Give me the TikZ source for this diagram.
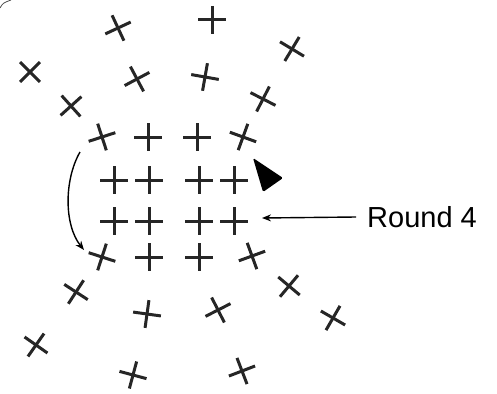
\documentclass[tikz,border=0pt]{standalone}
\usepackage{fontspec}
\setmainfont{Liberation Sans}
\usetikzlibrary{arrows.meta}
\tikzset{
  crossline/.style={draw=black!85, line width=3pt},
  crossnode/.style={minimum size=28pt, inner sep=0pt, outer sep=0pt,
    append after command={(\tikzlastnode.west) edge[crossline] (\tikzlastnode.east)
                          (\tikzlastnode.north) edge[crossline] (\tikzlastnode.south)}},
  thinarrow/.style={draw=black, line width=1.4pt, -{Stealth[length=9pt,width=7pt]}},
  labeltext/.style={inner sep=0pt, font=\fontsize{29}{32}\selectfont}
}
\begin{document}
\begin{tikzpicture}[x=1pt,y=-1pt]
\useasboundingbox (0,0) rectangle (497,393);
% outer crosses, top
\node[crossnode,rotate=25]  (t1) at (118,28) {};
\node[crossnode,rotate=0]   (t2) at (212,20) {};
\node[crossnode,rotate=-31] (t3) at (292,49) {};
\node[crossnode,rotate=45]  (t4) at (30,72) {};
\node[crossnode,rotate=28]  (t5) at (137,79) {};
\node[crossnode,rotate=-10] (t6) at (205,77) {};
\node[crossnode,rotate=42]  (t7) at (71,106) {};
\node[crossnode,rotate=-27] (t8) at (263,99) {};
% row 1
\node[crossnode,rotate=18]  (r11) at (102,137) {};
\node[crossnode]            (r12) at (148,137) {};
\node[crossnode]            (r13) at (197,137) {};
\node[crossnode,rotate=-20] (r14) at (243,137) {};
% row 2
\node[crossnode] (r21) at (114,180) {};
\node[crossnode] (r22) at (149,180) {};
\node[crossnode] (r23) at (199,180) {};
\node[crossnode] (r24) at (234,180) {};
% row 3
\node[crossnode] (r31) at (114,221) {};
\node[crossnode] (r32) at (149,221) {};
\node[crossnode] (r33) at (199,221) {};
\node[crossnode] (r34) at (234,221) {};
% row 4
\node[crossnode,rotate=-18] (r41) at (102,257) {};
\node[crossnode]            (r42) at (149,257) {};
\node[crossnode]            (r43) at (199,257) {};
\node[crossnode,rotate=20]  (r44) at (252,256) {};
% outer crosses, bottom
\node[crossnode,rotate=-33] (b1) at (76,292) {};
\node[crossnode,rotate=-40] (b2) at (289,286) {};
\node[crossnode,rotate=-8]  (b3) at (147,314) {};
\node[crossnode,rotate=27]  (b4) at (218,310) {};
\node[crossnode,rotate=-30] (b5) at (333,318) {};
\node[crossnode,rotate=-35] (b6) at (36,345) {};
\node[crossnode,rotate=-15] (b7) at (133,375) {};
\node[crossnode,rotate=21]  (b8) at (242,371) {};
% black pointer triangle
\fill[black, rounded corners=1.5pt] (253,158) -- (283,178) -- (263,192) -- cycle;
% label and arrow
\node[labeltext, anchor=west] (rnd) at (367,217) {Round 4};
\coordinate (r4tip) at (262,218);
\draw[thinarrow] ([xshift=-11pt]rnd.west) -- (r4tip);
% curved arrow
\coordinate (cs) at (80,152);
\coordinate (ce) at (84,250);
\draw[thinarrow] (cs) .. controls (64,180) and (64,225) .. (ce);
% partial circle at top-left corner
\draw[black!70, line width=0.8pt] (0,8) .. controls (3,3) .. (11,0);
\end{tikzpicture}
\end{document}
